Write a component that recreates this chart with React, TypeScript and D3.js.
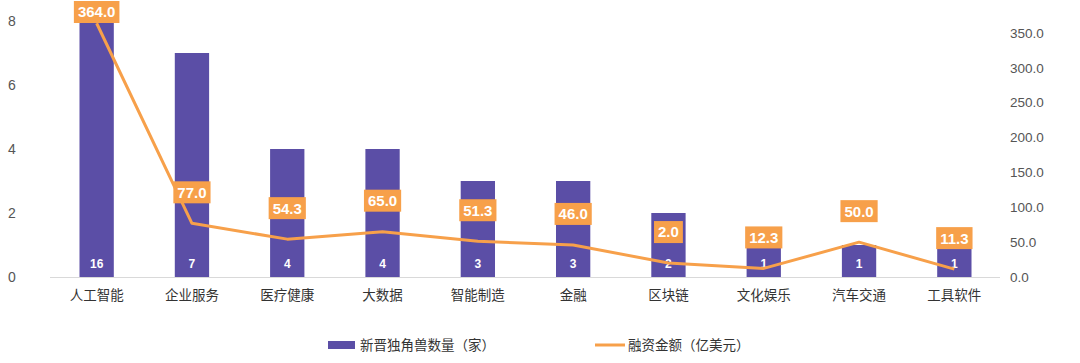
import { useRef, useEffect } from 'react';
import * as d3 from 'd3';

const categories = ['人工智能', '企业服务', '医疗健康', '大数据', '智能制造', '金融', '区块链', '文化娱乐', '汽车交通', '工具软件'];
const unicornCounts = [16, 7, 4, 4, 3, 3, 2, 1, 1, 1];
const fundingAmounts = [364, 77, 54.3, 65, 51.3, 46, 20, 12.3, 50, 11.3];
const fundingLabels = ['364.0', '77.0', '54.3', '65.0', '51.3', '46.0', '2.0', '12.3', '50.0', '11.3'];
const leftTicks = [0, 2, 4, 6, 8];
const rightTicks = [0, 50, 100, 150, 200, 250, 300, 350];
const barName = '新晋独角兽数量（家）';
const lineName = '融资金额（亿美元）';

const W = 1080;
const H = 363;
const FONT = '"Liberation Sans", "Noto Sans CJK SC", sans-serif';
const BAR = '#5b4ea6';
const ORANGE = '#f7a04a';

export default function App() {
  const svgRef = useRef<SVGSVGElement>(null);

  useEffect(() => {
    if (!svgRef.current) return;
    const svg = d3.select(svgRef.current);
    svg.selectAll('*').remove();

    const margin = { top: 21, bottom: 277, left: 49, right: 1002 };

    const x = d3.scaleBand<string>()
      .domain(categories)
      .range([margin.left, margin.right])
      .paddingInner(0.64)
      .paddingOuter(0.32);

    const yLeft = d3.scaleLinear().domain([0, 8]).range([margin.bottom, margin.top]).clamp(true);
    const yRight = d3.scaleLinear().domain([0, 367.2]).range([margin.bottom, margin.top]);

    // left axis labels
    svg.append('g')
      .selectAll('text')
      .data(leftTicks)
      .join('text')
      .attr('x', 12)
      .attr('y', d => yLeft(d))
      .attr('dy', '0.35em')
      .attr('text-anchor', 'middle')
      .attr('fill', '#555')
      .attr('font-size', 14)
      .attr('font-family', FONT)
      .text(d => String(d));

    // right axis labels
    svg.append('g')
      .selectAll('text')
      .data(rightTicks)
      .join('text')
      .attr('x', 1010)
      .attr('y', d => yRight(d))
      .attr('dy', '0.35em')
      .attr('fill', '#555')
      .attr('font-size', 13.5)
      .attr('font-family', FONT)
      .text(d => d.toFixed(1));

    // baseline
    svg.append('line')
      .attr('x1', 50)
      .attr('x2', 1000)
      .attr('y1', margin.bottom + 0.5)
      .attr('y2', margin.bottom + 0.5)
      .attr('stroke', '#d9d9d9');

    // bars
    svg.append('g')
      .selectAll('rect')
      .data(unicornCounts)
      .join('rect')
      .attr('x', (_, i) => x(categories[i])!)
      .attr('y', d => yLeft(d))
      .attr('width', x.bandwidth())
      .attr('height', d => margin.bottom - yLeft(d))
      .attr('fill', BAR);

    // bar value labels
    svg.append('g')
      .selectAll('text')
      .data(unicornCounts)
      .join('text')
      .attr('x', (_, i) => x(categories[i])! + x.bandwidth() / 2)
      .attr('y', margin.bottom - 9)
      .attr('text-anchor', 'middle')
      .attr('fill', '#fff')
      .attr('font-size', 12)
      .attr('font-weight', 'bold')
      .attr('font-family', FONT)
      .text(d => String(d));

    // category labels
    svg.append('g')
      .selectAll('text')
      .data(categories)
      .join('text')
      .attr('x', d => x(d)! + x.bandwidth() / 2)
      .attr('y', 300)
      .attr('text-anchor', 'middle')
      .attr('fill', '#333')
      .attr('font-size', 13.5)
      .attr('font-family', FONT)
      .text(d => d);

    // line
    const line = d3.line<number>()
      .x((_, i) => x(categories[i])! + x.bandwidth() / 2)
      .y(d => yRight(d));

    svg.append('path')
      .datum(fundingAmounts)
      .attr('fill', 'none')
      .attr('stroke', ORANGE)
      .attr('stroke-width', 3)
      .attr('stroke-linejoin', 'round')
      .attr('d', line);

    // line value labels
    const labels = svg.append('g')
      .selectAll('g')
      .data(fundingAmounts)
      .join('g')
      .attr('transform', (d, i) => {
        const cx = x(categories[i])! + x.bandwidth() / 2;
        const cy = Math.max(12, yRight(d) - 31);
        return `translate(${cx},${cy})`;
      });

    const rects = labels.append('rect').attr('fill', ORANGE);
    const texts = labels.append('text')
      .attr('text-anchor', 'middle')
      .attr('dy', '0.36em')
      .attr('fill', '#fff')
      .attr('font-size', 15)
      .attr('font-weight', 'bold')
      .attr('font-family', FONT)
      .text((_, i) => fundingLabels[i]);

    texts.each(function (_, i) {
      const w = (this as SVGTextElement).getComputedTextLength() + 8;
      d3.select(rects.nodes()[i])
        .attr('x', -w / 2)
        .attr('y', -11)
        .attr('width', w)
        .attr('height', 22);
    });

    // legend
    const legend = svg.append('g').attr('font-family', FONT).attr('font-size', 13.5).attr('fill', '#333');
    legend.append('rect').attr('x', 328).attr('y', 341).attr('width', 27).attr('height', 8).attr('fill', BAR);
    legend.append('text').attr('x', 360).attr('y', 345).attr('dy', '0.35em').text(barName);
    legend.append('line').attr('x1', 595).attr('x2', 625).attr('y1', 345).attr('y2', 345)
      .attr('stroke', ORANGE).attr('stroke-width', 3);
    legend.append('text').attr('x', 628).attr('y', 345).attr('dy', '0.35em').text(lineName);
  }, []);

  return (
    <svg
      ref={svgRef}
      width={W}
      height={H}
      style={{ position: 'absolute', left: 0, top: 0, background: '#fff' }}
    />
  );
}
